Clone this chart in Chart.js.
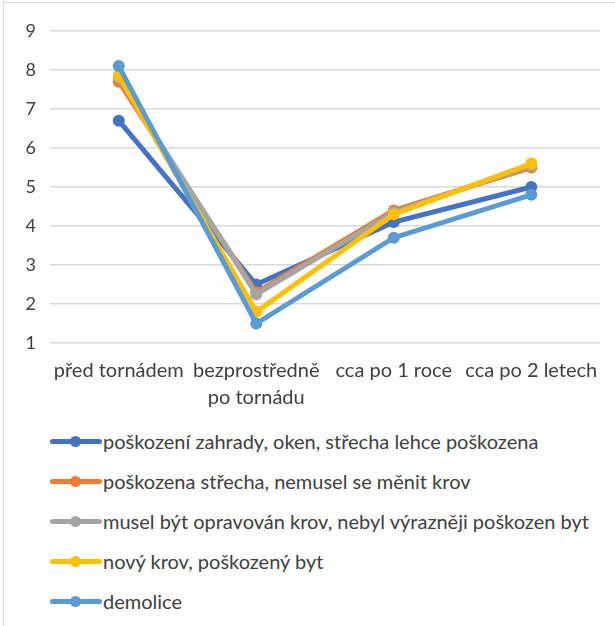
<!DOCTYPE html>
<html>
<head>
<meta charset="utf-8">
<script src="https://cdn.jsdelivr.net/npm/chart.js@4"></script>
<style>
  html, body { margin: 0; padding: 0; background: #fff; }
  #frame { position: absolute; left: 3px; top: 2px; width: 640px; height: 640px; border: 1px solid #d9d9d9; box-sizing: border-box; }
  #wrap { position: absolute; left: 0; top: 0; width: 615px; height: 420px; }
  #legend { position: absolute; left: 50px; top: 421px; font-family: Lato, "Liberation Sans", sans-serif; font-size: 20px; color: #404040; }
  .item { position: relative; height: 40px; display: flex; align-items: center; white-space: nowrap; }
  .sample { position: relative; width: 52px; height: 5px; border-radius: 3px; margin-right: 1px; }
  .sample::after { content: ""; position: absolute; left: 20px; top: -3px; width: 11px; height: 11px; border-radius: 50%; background: inherit; }
</style>
</head>
<body>
<div id="frame"></div>
<div id="wrap"><canvas id="c" width="615" height="420"></canvas></div>
<div id="legend"></div>
<script>
const categories = ["před tornádem", ["bezprostředně", "po tornádu"], "cca po 1 roce", "cca po 2 letech"];
const seriesNames = [
  "poškození zahrady, oken, střecha lehce poškozena",
  "poškozena střecha, nemusel se měnit krov",
  "musel být opravován krov, nebyl výrazněji poškozen byt",
  "nový krov, poškozený byt",
  "demolice"
];
const zahradyOken = [6.7, 2.5, 4.1, 5.0];
const poskozenaStrecha = [7.7, 2.3, 4.4, 5.5];
const opravovanKrov = [7.8, 2.25, 4.35, 5.55];
const novyKrov = [7.85, 1.8, 4.3, 5.6];
const demolice = [8.1, 1.5, 3.7, 4.8];
const colors = ["#4472C4", "#ED7D31", "#A5A5A5", "#FFC000", "#5B9BD5"];
const yTicks = [1, 2, 3, 4, 5, 6, 7, 8, 9];

const seriesValues = [zahradyOken, poskozenaStrecha, opravovanKrov, novyKrov, demolice];
const datasets = seriesValues.map((vals, i) => ({
  label: seriesNames[i],
  data: vals,
  borderColor: colors[i],
  backgroundColor: colors[i],
  borderWidth: 5,
  pointRadius: 6,
  pointHoverRadius: 6,
  pointBorderWidth: 0,
  tension: 0,
  order: seriesValues.length - 1 - i
}));

const chart = new Chart(document.getElementById('c'), {
  type: 'line',
  data: { labels: categories, datasets },
  options: {
    responsive: false,
    animation: false,
    layout: { padding: { top: 31, right: 15, left: 0, bottom: 0 } },
    plugins: { legend: { display: false }, tooltip: { enabled: false } },
    scales: {
      x: {
        offset: true,
        grid: { display: false },
        border: { display: false },
        ticks: { color: '#404040', font: { family: 'Lato', size: 20, lineHeight: 1.35 }, padding: 6, maxRotation: 0, autoSkip: false },
        afterFit: s => { s.height = 77; }
      },
      y: {
        min: 1, max: 9,
        afterBuildTicks: s => { s.ticks = yTicks.map(v => ({ value: v })); },
        grid: { color: '#d9d9d9', lineWidth: 1.5, drawTicks: false },
        border: { display: false },
        ticks: { color: '#404040', font: { family: 'Lato', size: 18 }, padding: 14 },
        afterFit: s => { s.width = 50; }
      }
    }
  }
});

const legendEl = document.getElementById('legend');
chart.data.datasets.forEach(ds => {
  const item = document.createElement('div');
  item.className = 'item';
  const sample = document.createElement('span');
  sample.className = 'sample';
  sample.style.background = ds.borderColor;
  const txt = document.createElement('span');
  txt.textContent = ds.label;
  item.appendChild(sample);
  item.appendChild(txt);
  legendEl.appendChild(item);
});
</script>
</body>
</html>
